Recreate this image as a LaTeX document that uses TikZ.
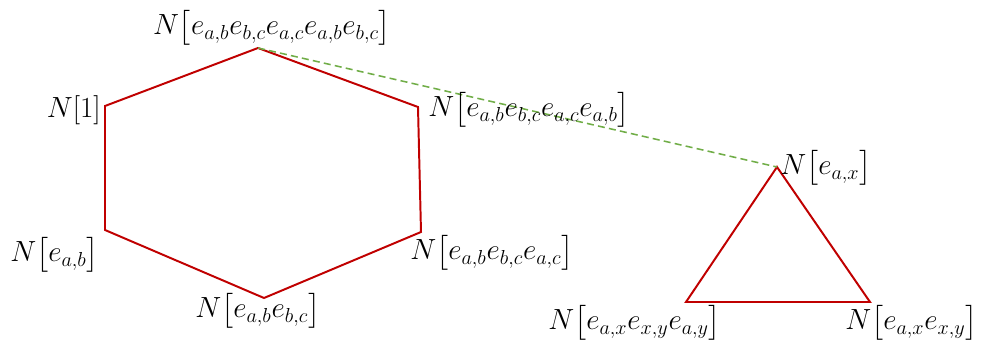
\documentclass[tikz,border=0pt]{standalone}
\usepackage{amsmath}
\definecolor{edgered}{RGB}{192,0,0}
\definecolor{linkgreen}{RGB}{112,173,71}
\tikzset{
  cycleline/.style={draw=edgered, line width=1.4pt, line join=miter},
  linkline/.style={draw=linkgreen, line width=1.1pt, dashed, dash pattern=on 5pt off 3pt},
  vlabel/.style={inner sep=0pt, font=\fontsize{22}{26}\selectfont}
}
\begin{document}
\begin{tikzpicture}[x=0.025cm, y=-0.025cm]
			\useasboundingbox (0,0) rectangle (981,352);
			% hexagon corners
			\coordinate (h1) at (258,48); \coordinate (h2) at (418,107);
			\coordinate (h3) at (421,232); \coordinate (h4) at (264,298);
			\coordinate (h5) at (105,230); \coordinate (h6) at (105,106);
			% triangle corners
			\coordinate (t1) at (777,167); \coordinate (t2) at (870,302);
			\coordinate (t3) at (686,302);
			\draw[cycleline] (h1) -- (h2) -- (h3) -- (h4) -- (h5) -- (h6) -- cycle;
			\draw[cycleline] (t1) -- (t2) -- (t3) -- cycle;
			\draw[linkline] (h1) -- (t1);
			\node[vlabel, anchor=base] (l1) at (272,35) {$N\bigl[e_{a,b}e_{b,c}e_{a,c}e_{a,b}e_{b,c}\bigr]$};
			\node[vlabel, anchor=base west] (l2) at (428,117) {$N\bigl[e_{a,b}e_{b,c}e_{a,c}e_{a,b}\bigr]$};
			\node[vlabel, anchor=base west] (l3) at (410,260) {$N\bigl[e_{a,b}e_{b,c}e_{a,c}\bigr]$};
			\node[vlabel, anchor=base west] (l4) at (195,318) {$N\bigl[e_{a,b}e_{b,c}\bigr]$};
			\node[vlabel, anchor=base west] (l5) at (10,262) {$N\bigl[e_{a,b}\bigr]$};
			\node[vlabel, anchor=base east] (l6) at (101,118) {$N[1]$};
			\node[vlabel, anchor=base west] (l7) at (780,175) {$N\bigl[e_{a,x}\bigr]$};
			\node[vlabel, anchor=base east] (l8) at (978,330) {$N\bigl[e_{a,x}e_{x,y}\bigr]$};
			\node[vlabel, anchor=base west] (l9) at (548,330) {$N\bigl[e_{a,x}e_{x,y}e_{a,y}\bigr]$};
		\end{tikzpicture}
\end{document}
